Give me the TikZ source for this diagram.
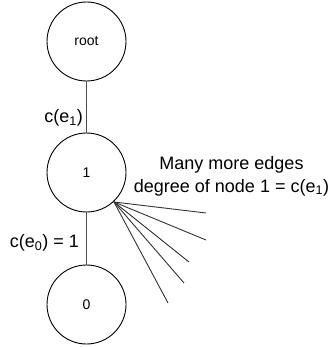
\documentclass[tikz,border=0pt]{standalone}
\usepackage{fontspec}
\setmainfont{Liberation Sans}
\begin{document}
\begin{tikzpicture}[x=1pt,y=-1pt,
  vert/.style={circle,draw=black,line width=0.9pt,minimum size=79pt,inner sep=0pt,font=\fontsize{14}{16}\selectfont},
  edge/.style={draw=black!70,line width=1.2pt},
  fan/.style={draw=black!80,line width=0.9pt},
  lbl/.style={font=\fontsize{18}{22}\selectfont,inner sep=0pt}]
\useasboundingbox (0,0) rectangle (330,347);
\node[vert] (root) at (86.5,41.5) {root};
\node[vert] (n1) at (86.5,172.5) {1};
\node[vert] (n0) at (86.5,304.5) {0};
\draw[edge] (root) -- (n1);
\draw[edge] (n1) -- (n0);
\node[lbl,anchor=east] (l1) at (83,118) {c(e\textsubscript{1})};
\node[lbl,anchor=east] (l0) at (79,243) {c(e\textsubscript{0}) = 1};
\node[lbl,align=center] (many) at (231.5,176) {Many more edges\\[1pt]degree of node 1 = c(e\textsubscript{1})};
\coordinate (s) at (114,202);
\coordinate (f1) at (206,213);
\coordinate (f2) at (206,240);
\coordinate (f3) at (189,262);
\coordinate (f4) at (184,283);
\coordinate (f5) at (168,303);
\foreach \f in {f1,f2,f3,f4,f5} \draw[fan] (s) -- (\f);
\end{tikzpicture}
\end{document}
